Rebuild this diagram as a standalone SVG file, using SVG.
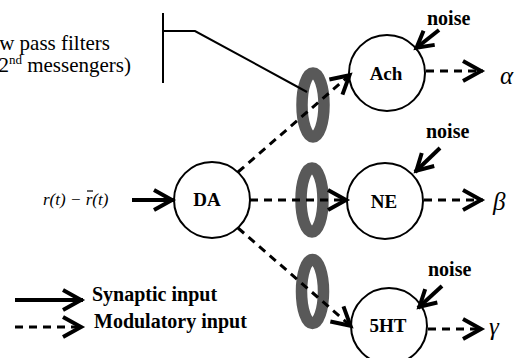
<svg xmlns="http://www.w3.org/2000/svg" width="516" height="358" viewBox="0 0 516 358">
  <style>
    .node { fill: #fff; stroke: #000; stroke-width: 2; }
    .serif { font-family: 'Liberation Serif', 'DejaVu Serif', serif; }
    .lbl { font-weight: bold; font-size: 19px; text-anchor: middle; fill: #000; }
    .noise { font-weight: bold; font-size: 20px; fill: #000; }
    .plain { font-size: 21px; fill: #000; }
    .math { font-style: italic; fill: #000; }
    .syn { fill: none; stroke: #000; stroke-width: 4; }
    .mod { fill: none; stroke: #000; stroke-width: 3; stroke-dasharray: 8 6; }
    .filter { fill: none; stroke: #595959; stroke-width: 11.5; }
    .thin { fill: none; stroke: #000; stroke-width: 2; }
  </style>
  <defs>
    <marker id="head" markerUnits="userSpaceOnUse" viewBox="-24 -13 28 26" markerWidth="28" markerHeight="26" refX="0" refY="0" orient="auto" overflow="visible">
      <path d="M-20,-10 L-2,0 L-20,10" fill="none" stroke="#000" stroke-width="4" stroke-dasharray="none"/>
    </marker>
    <marker id="headS" markerUnits="userSpaceOnUse" viewBox="-20 -11 24 22" markerWidth="24" markerHeight="22" refX="0" refY="0" orient="auto" overflow="visible">
      <path d="M-18,-9 L-2,0 L-18,9" fill="none" stroke="#000" stroke-width="4" stroke-dasharray="none"/>
    </marker>
  </defs>

  <rect width="516" height="358" fill="#fff"/>

  <!-- second-messenger low pass filters (grey rings) -->
  <g id="filters">
    <ellipse class="filter" cx="313" cy="105" rx="11" ry="32"/>
    <ellipse class="filter" cx="312" cy="200" rx="11" ry="32"/>
    <ellipse class="filter" cx="312.5" cy="291.5" rx="11" ry="32"/>
  </g>

  <!-- filter annotation -->
  <g id="filter-label">
    <text class="plain serif" x="110" y="50" text-anchor="end">Low pass filters</text>
    <text class="plain serif" x="131" y="72" text-anchor="end">(2<tspan font-size="13" dy="-8">nd</tspan><tspan dy="8"> messengers)</tspan></text>
    <path class="thin" d="M163,13 V83 M163,31 H195 L307,92"/>
  </g>

  <!-- nodes -->
  <g id="DA">
    <circle class="node" cx="212" cy="200" r="38"/>
    <text class="lbl serif" x="207" y="206">DA</text>
  </g>
  <g id="Ach">
    <circle class="node" cx="387" cy="73" r="38"/>
    <text class="lbl serif" x="386" y="80">Ach</text>
  </g>
  <g id="NE">
    <circle class="node" cx="385" cy="201" r="38"/>
    <text class="lbl serif" x="384" y="208">NE</text>
  </g>
  <g id="HT5">
    <circle class="node" cx="389" cy="326" r="38"/>
    <text class="lbl serif" x="388" y="332">5HT</text>
  </g>

  <!-- connectors -->
  <g id="connectors">
    <!-- reward prediction error input -->
    <line class="syn" x1="132" y1="200" x2="174" y2="200" marker-end="url(#head)"/>
    <!-- DA to modulatory targets -->
    <line class="mod" x1="238" y1="172" x2="351" y2="74" marker-end="url(#head)"/>
    <line class="mod" x1="250" y1="200" x2="348" y2="200" marker-end="url(#head)"/>
    <line class="mod" x1="238" y1="228" x2="352" y2="327" marker-end="url(#head)"/>
    <!-- outputs -->
    <line class="mod" x1="426" y1="71" x2="483" y2="71" marker-end="url(#head)"/>
    <line class="mod" x1="424" y1="200" x2="483" y2="200" marker-end="url(#head)"/>
    <line class="mod" x1="428" y1="329" x2="483" y2="329" marker-end="url(#head)"/>
    <!-- noise inputs -->
    <line class="syn" x1="439" y1="30" x2="415" y2="49" marker-end="url(#headS)"/>
    <line class="syn" x1="440" y1="148" x2="415" y2="172" marker-end="url(#headS)"/>
    <line class="syn" x1="442" y1="286" x2="418" y2="308" marker-end="url(#headS)"/>
  </g>

  <!-- noise labels -->
  <text class="noise serif" x="427" y="25">noise</text>
  <text class="noise serif" x="426" y="138">noise</text>
  <text class="noise serif" x="428" y="276">noise</text>

  <!-- output symbols -->
  <text class="math serif" x="500" y="84" font-size="25">α</text>
  <text class="math serif" x="493" y="210" font-size="25">β</text>
  <text class="math serif" x="489" y="335" font-size="25">γ</text>

  <!-- input expression r(t) - r̄(t) -->
  <text class="math serif" x="43" y="205" font-size="17">r(t) − r(t)</text>
  <line x1="87" y1="191" x2="93" y2="191" stroke="#000" stroke-width="1.2"/>

  <!-- legend -->
  <g id="legend">
    <line class="syn" x1="15" y1="300" x2="83" y2="300" marker-end="url(#head)"/>
    <text class="noise serif" x="92" y="301">Synaptic input</text>
    <line class="mod" x1="15" y1="327" x2="83" y2="327" stroke-dasharray="10 8" stroke-width="3.5" marker-end="url(#head)"/>
    <text class="noise serif" x="94" y="328">Modulatory input</text>
  </g>
</svg>
